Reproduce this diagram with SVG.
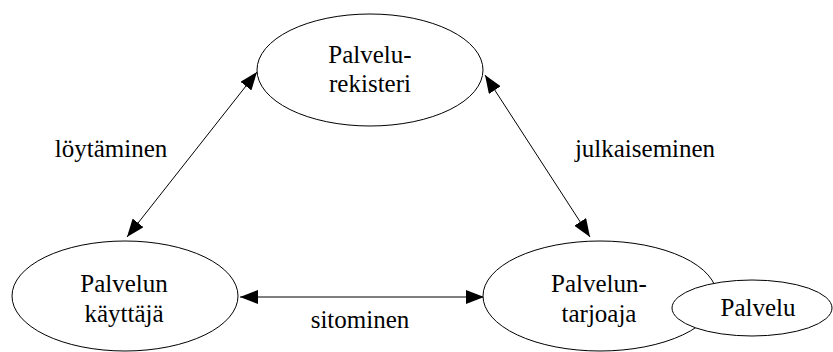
<svg xmlns="http://www.w3.org/2000/svg" width="833" height="352" viewBox="0 0 833 352">
  <style>
    .node { fill: #ffffff; stroke: #000000; stroke-width: 1; }
    .lbl { font-size: 25px; fill: #000000; text-anchor: middle; }
    .edge { stroke: #000000; stroke-width: 1; fill: none; marker-start: url(#head); marker-end: url(#head); }
  </style>
  <defs>
    <marker id="head" viewBox="0 0 18 14" refX="18" refY="7" markerWidth="18" markerHeight="14" markerUnits="userSpaceOnUse" orient="auto-start-reverse">
      <path d="M0,0 L18,7 L0,14 z" fill="#000000"/>
    </marker>
  </defs>
  <rect width="833" height="352" fill="#ffffff"/>

  <g id="connectors" font-family="'Liberation Serif', 'Times New Roman', Times, 'DejaVu Serif', serif">
    <line class="edge" x1="127" y1="237" x2="257" y2="72"/>
    <line class="edge" x1="485" y1="75" x2="590" y2="237"/>
    <line class="edge" x1="240" y1="297" x2="484" y2="297"/>
    <text class="lbl" x="111" y="157">löytäminen</text>
    <text class="lbl" x="645" y="157">julkaiseminen</text>
    <text class="lbl" x="360" y="328">sitominen</text>
  </g>

  <g id="rekisteri" font-family="'Liberation Serif', 'Times New Roman', Times, 'DejaVu Serif', serif">
    <ellipse class="node" cx="370" cy="70" rx="113" ry="56"/>
    <text class="lbl" x="370" y="63">Palvelu-</text>
    <text class="lbl" x="370" y="92">rekisteri</text>
  </g>

  <g id="kayttaja" font-family="'Liberation Serif', 'Times New Roman', Times, 'DejaVu Serif', serif">
    <ellipse class="node" cx="125" cy="296" rx="113" ry="55"/>
    <text class="lbl" x="124" y="292">Palvelun</text>
    <text class="lbl" x="124" y="322">käyttäjä</text>
  </g>

  <g id="tarjoaja" font-family="'Liberation Serif', 'Times New Roman', Times, 'DejaVu Serif', serif">
    <ellipse class="node" cx="600" cy="296" rx="117" ry="55"/>
    <text class="lbl" x="599" y="292">Palvelun-</text>
    <text class="lbl" x="599" y="322">tarjoaja</text>
  </g>

  <g id="palvelu" font-family="'Liberation Serif', 'Times New Roman', Times, 'DejaVu Serif', serif">
    <ellipse class="node" cx="752" cy="308" rx="80" ry="28"/>
    <text class="lbl" x="758" y="316">Palvelu</text>
  </g>
</svg>
